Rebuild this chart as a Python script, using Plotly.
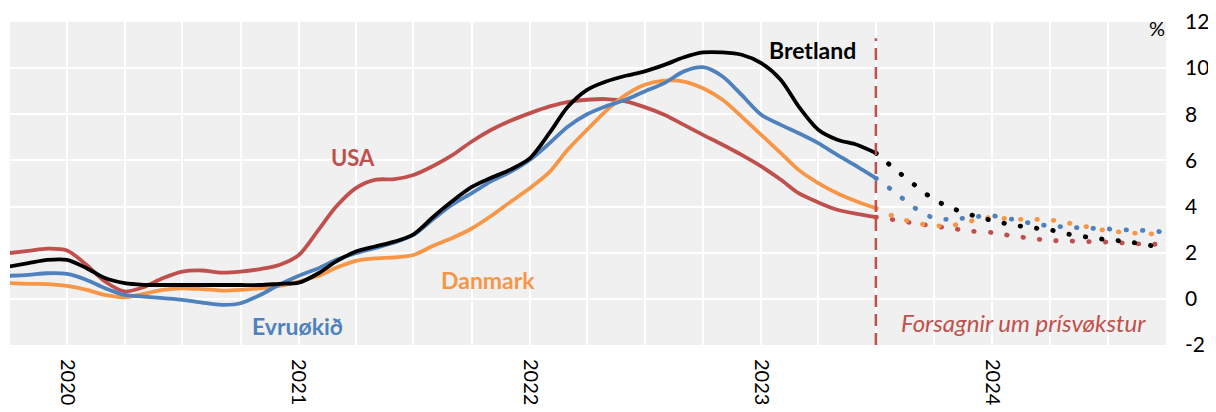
import pandas as pd
import plotly.graph_objects as go

# ---- data ----
months_actual = pd.date_range("2019-10-01", "2023-07-01", freq="MS")
months_forecast = pd.date_range("2023-07-01", "2024-10-01", freq="MS")

usa = [1.98, 2.08, 2.18, 2.10, 1.47, 0.75, 0.32, 0.51, 0.90, 1.18, 1.23, 1.14, 1.18, 1.29, 1.47, 1.90,
       2.99, 4.00, 4.80, 5.16, 5.19, 5.37, 5.76, 6.24, 6.82, 7.33, 7.72, 8.05, 8.34, 8.53, 8.63, 8.66,
       8.56, 8.31, 7.98, 7.54, 7.11, 6.68, 6.24, 5.74, 5.16, 4.58, 4.18, 3.86, 3.68, 3.54]
bretland = [1.40, 1.55, 1.69, 1.69, 1.33, 0.90, 0.68, 0.61, 0.60, 0.60, 0.60, 0.60, 0.60, 0.60, 0.65, 0.70,
            1.11, 1.62, 2.05, 2.27, 2.48, 2.80, 3.55, 4.25, 4.85, 5.25, 5.60, 6.10, 7.20, 8.30, 9.06, 9.42,
            9.67, 9.86, 10.14, 10.47, 10.68, 10.68, 10.58, 10.22, 9.49, 8.34, 7.33, 6.90, 6.68, 6.32]
evru = [1.00, 1.04, 1.11, 1.08, 0.82, 0.46, 0.17, 0.10, 0.03, -0.04, -0.16, -0.26, -0.19, 0.17, 0.61, 1.00,
        1.33, 1.69, 1.98, 2.20, 2.44, 2.77, 3.45, 4.10, 4.58, 5.10, 5.50, 6.03, 6.75, 7.45, 8.00, 8.35,
        8.63, 8.99, 9.35, 9.86, 10.04, 9.64, 8.84, 7.98, 7.54, 7.18, 6.75, 6.24, 5.74, 5.23]
danmark = [0.68, 0.65, 0.64, 0.56, 0.39, 0.17, 0.07, 0.22, 0.39, 0.46, 0.42, 0.36, 0.39, 0.46, 0.56, 0.75,
           1.00, 1.35, 1.65, 1.75, 1.80, 1.90, 2.30, 2.65, 3.05, 3.60, 4.20, 4.80, 5.50, 6.45, 7.33, 8.15,
           8.84, 9.28, 9.46, 9.42, 9.13, 8.63, 7.90, 7.11, 6.32, 5.59, 5.02, 4.58, 4.22, 3.93]

usa_f = [3.54, 3.42, 3.27, 3.15, 3.04, 2.93, 2.87, 2.73, 2.63, 2.53, 2.51, 2.48, 2.46, 2.41, 2.37, 2.37]
bretland_f = [6.32, 5.60, 4.92, 4.30, 3.90, 3.62, 3.39, 3.21, 3.09, 2.99, 2.80, 2.67, 2.56, 2.48, 2.34, 2.20]
evru_f = [5.23, 4.60, 3.93, 3.50, 3.45, 3.55, 3.60, 3.45, 3.28, 3.16, 3.11, 3.06, 3.03, 2.99, 2.96, 2.89]
danmark_f = [3.93, 3.55, 3.30, 3.17, 3.20, 3.39, 3.54, 3.45, 3.45, 3.42, 3.28, 3.11, 2.95, 2.87, 2.82, 2.80]

forecast_start = "2023-07-01"
y_ticks = [-2, 0, 2, 4, 6, 8, 10, 12]
y_ticktext = ["-2", "0", "2", "4", "6", "8", "10", "12"]

RED = "#C0504D"
BLUE = "#4F81BD"
ORANGE = "#F79646"
BLACK = "#000000"
FONT = "Lato"

fig = go.Figure()

series = [
    ("USA", usa, usa_f, RED),
    ("Danmark", danmark, danmark_f, ORANGE),
    ("Evruøkið", evru, evru_f, BLUE),
    ("Bretland", bretland, bretland_f, BLACK),
]
for name, act, fc, col in series:
    fig.add_trace(go.Scatter(x=months_actual, y=act, mode="lines", name=name,
                             line=dict(color=col, width=3.8, shape="spline", smoothing=0.8),
                             showlegend=False, hoverinfo="skip"))
    fig.add_trace(go.Scatter(x=months_forecast, y=fc, mode="lines", name=name + " forsøgn",
                             line=dict(color=col, width=4.8, shape="spline", smoothing=0.8,
                                       dash="0.5px,16px"),
                             showlegend=False, hoverinfo="skip"))

fig.add_shape(type="line", xref="x", yref="paper", x0=forecast_start, x1=forecast_start,
              y0=0, y1=0.95, line=dict(color=RED, width=2.5, dash="12px,7px"))

labels = [
    ("<b>Bretland</b>", 0.6946, 0.913, BLACK, 23),
    ("<b>USA</b>", 0.2967, 0.579, RED, 22),
    ("<b>Evruøkið</b>", 0.249, 0.0588, BLUE, 23),
    ("<b>Danmark</b>", 0.4135, 0.2012, ORANGE, 23),
    ("<i>Forsagnir um prísvøkstur</i>", 0.877, 0.0712, RED, 24),
]
for txt, xx, yy, col, sz in labels:
    fig.add_annotation(text=txt, xref="paper", yref="paper", x=xx, y=yy, showarrow=False,
                       xanchor="center", yanchor="middle",
                       font=dict(family=FONT, size=sz, color=col))

fig.add_annotation(text="%", xref="paper", yref="paper", x=0.9922, y=0.981, showarrow=False,
                   xanchor="center", yanchor="middle", font=dict(family=FONT, size=20, color=BLACK))

# page body has an 8px default margin, so the figure is 8px smaller and shifted margins
fig.update_layout(
    width=1208, height=404, autosize=False,
    margin=dict(l=2, r=50, t=14, b=67),
    paper_bgcolor="white", plot_bgcolor="#F0F0F0",
    font=dict(family=FONT, size=20, color=BLACK),
)
fig.update_xaxes(
    type="date", range=["2019-10-03", "2024-10-01"], automargin=False,
    tick0="2020-01-01", dtick="M12", tickformat="%Y", tickangle=90,
    showgrid=True, gridcolor="white", gridwidth=1.5,
    minor=dict(tick0="2020-01-01", dtick="M3", showgrid=True, gridcolor="white", gridwidth=1.5),
    ticks="", showline=False, zeroline=False, ticklabelstandoff=13,
    tickfont=dict(family=FONT, size=20, color=BLACK),
)
fig.update_yaxes(
    side="right", range=[-2, 12], tickvals=y_ticks, ticktext=y_ticktext, automargin=False,
    showgrid=True, gridcolor="white", gridwidth=1.5,
    ticks="", showline=False, zeroline=False, ticklabelstandoff=18,
    tickfont=dict(family=FONT, size=21, color=BLACK),
)

round_dots = """
var gd = document.querySelector('.plotly-graph-div');
function roundDots(){
  document.querySelectorAll('.scatterlayer .js-line').forEach(function(p){
    var d = p.style.strokeDasharray;
    if (d && d !== 'none') { p.style.strokeLinecap = 'round'; }
  });
}
roundDots();
if (gd && gd.on) { gd.on('plotly_afterplot', roundDots); }
"""

fig.write_html("out.html", post_script=round_dots)
